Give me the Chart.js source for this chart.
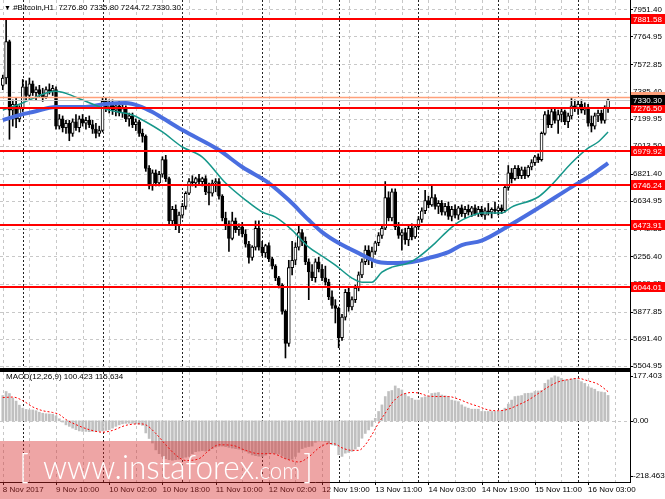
<!DOCTYPE html>
<html>
<head>
<meta charset="utf-8">
<script src="https://cdn.jsdelivr.net/npm/chart.js@4.4.1/dist/chart.umd.min.js"></script>
<style>
  html, body { margin: 0; padding: 0; background: #fff; }
  #wrap { position: relative; width: 665px; height: 499px; overflow: hidden; font-family: 'Liberation Sans', Arial, sans-serif; }
  #c1 { position: absolute; left: 0; top: 0; }
  #c2 { position: absolute; left: 0; top: 370px; }
  .lbl { position: absolute; font-size: 8px; line-height: 10px; color: #000; white-space: pre; }
  #pink { position: absolute; left: 0; top: 441px; width: 330px; height: 58px; background: rgba(215, 40, 40, 0.42); }
  .wm { position: absolute; color: #fff; white-space: pre; font-family: Lato, 'Open Sans', sans-serif; font-weight: 300; }
</style>
</head>
<body>
<div id="wrap">
  <canvas id="c1" width="665" height="370"></canvas>
  <canvas id="c2" width="665" height="129"></canvas>
  <div class="lbl" style="left:4px;top:3px;"><span style="font-size:7px">▼</span> #Bitcoin,H1  7276.80 7335.80 7244.72 7330.30</div>
  <div class="lbl" style="left:6px;top:372px;">MACD(12,26,9) 100.423 115.634</div>
  <div id="pink"></div>
  <div class="wm" id="bl" style="left:19px;top:449px;font-size:34px;line-height:34px;">[</div>
  <div class="wm" id="wmt" style="left:43px;top:449px;font-size:34px;line-height:34px;">www.instaforex<span style="font-size:24px">.com</span></div>
  <div class="wm" id="br" style="left:303px;top:449px;font-size:34px;line-height:34px;">]</div>
</div>
<script>
// hourly candles, 8 Nov 18:00 -> 16 Nov
const opens = [7430,7480,7730,7260,7300,7200,7270,7420,7360,7440,7380,7400,7370,7350,7400,7390,7400,7150,7200,7140,
  7170,7100,7180,7140,7200,7170,7190,7160,7130,7100,7120,7320,7280,7300,7260,7290,7240,7270,7200,7220,
  7160,7180,7100,7080,6860,6740,6830,6760,6820,6920,6790,6500,6580,6470,6540,6600,6690,6770,6760,6790,
  6770,6790,6700,6690,6760,6770,6670,6520,6480,6380,6500,6440,6460,6410,6340,6250,6320,6450,6320,6280,
  6330,6240,6190,6110,6060,5880,5660,6180,6230,6320,6420,6360,6220,6150,6110,6220,6170,6110,6080,5980,
  5920,5900,5700,5840,6010,5910,5960,6040,6130,6220,6300,6230,6290,6350,6400,6450,6660,6520,6700,6460,
  6400,6420,6370,6450,6390,6460,6510,6570,6640,6610,6660,6600,6620,6560,6600,6530,6580,6540,6590,6550,
  6580,6560,6590,6550,6580,6540,6570,6560,6580,6570,6590,6570,6730,6830,6790,6860,6810,6850,6810,6870,
  6900,6940,6920,7100,7230,7160,7250,7190,7230,7250,7180,7220,7290,7270,7300,7260,7280,7170,7150,7220,
  7240,7190,7276.80];
const highs = [7500,7880,7740,7330,7340,7290,7470,7460,7480,7460,7420,7430,7410,7420,7440,7430,7420,7230,7220,7190,
  7190,7200,7230,7220,7230,7210,7220,7190,7170,7150,7345,7340,7330,7330,7310,7320,7300,7290,7240,7240,
  7200,7190,7130,7090,6880,6850,6850,6840,6940,6950,6800,6600,6610,6560,6620,6700,6790,6810,6800,6820,
  6800,6810,6760,6780,6790,6790,6680,6560,6500,6560,6520,6480,6490,6440,6360,6330,6500,6500,6360,6340,
  6350,6250,6200,6120,6070,5890,6230,6360,6350,6470,6440,6390,6240,6200,6240,6250,6200,6190,6100,6020,
  5960,5910,5860,6030,6040,5980,6060,6150,6240,6330,6330,6320,6360,6420,6470,6770,6700,6720,6720,6490,
  6440,6450,6470,6480,6470,6530,6590,6710,6670,6750,6680,6640,6640,6620,6630,6600,6610,6600,6610,6600,
  6610,6600,6610,6600,6600,6590,6620,6590,6630,6600,6610,6740,6880,6860,6880,6880,6870,6870,6880,6920,
  6950,6960,7110,7250,7260,7270,7270,7260,7270,7260,7240,7340,7330,7320,7330,7310,7300,7220,7240,7260,
  7260,7290,7335.80];
const lows = [7400,7440,7060,7150,7140,7180,7250,7330,7340,7360,7330,7350,7320,7340,7370,7360,7130,7130,7110,7100,
  7050,7080,7120,7110,7150,7130,7140,7100,7070,7080,7110,7250,7240,7230,7220,7220,7210,7180,7150,7140,
  7120,7080,7040,6840,6720,6710,6740,6740,6800,6770,6480,6480,6440,6420,6520,6580,6680,6740,6730,6750,
  6740,6680,6610,6670,6700,6650,6500,6440,6290,6370,6420,6400,6390,6320,6210,6230,6300,6300,6260,6250,
  6220,6170,6090,6040,5860,5560,5640,6130,6200,6300,6330,6200,5960,6090,6080,6150,6090,6060,5960,5900,
  5800,5630,5680,5820,5880,5890,5940,6020,6110,6200,6200,6180,6270,6330,6380,6440,6500,6500,6440,6380,
  6300,6340,6330,6370,6380,6440,6490,6550,6590,6600,6580,6550,6540,6540,6510,6500,6520,6510,6530,6520,
  6540,6530,6540,6530,6530,6510,6540,6520,6550,6540,6550,6560,6710,6760,6780,6790,6790,6790,6800,6850,
  6880,6900,6910,7090,7140,7140,7170,7100,7180,7160,7140,7200,7250,7230,7240,7230,7150,7110,7130,7180,
  7170,7170,7244.72];
const closes = [7480,7730,7260,7300,7200,7270,7420,7360,7440,7380,7400,7370,7350,7400,7390,7410,7150,7200,7140,7170,
  7100,7180,7140,7200,7170,7190,7160,7130,7100,7120,7320,7280,7300,7260,7290,7240,7270,7200,7220,7160,
  7180,7100,7080,6860,6740,6830,6760,6820,6920,6790,6500,6580,6470,6540,6600,6690,6770,6760,6790,6770,
  6790,6700,6690,6760,6770,6670,6520,6480,6380,6500,6440,6460,6410,6340,6250,6320,6450,6320,6280,6330,
  6240,6190,6110,6060,5880,5660,6180,6230,6320,6420,6360,6220,6150,6110,6220,6170,6110,6080,5980,5920,
  5900,5700,5840,6010,5910,5960,6040,6130,6220,6300,6230,6290,6350,6400,6450,6660,6520,6700,6460,6400,
  6420,6370,6450,6390,6460,6510,6570,6640,6610,6660,6600,6620,6560,6600,6530,6580,6540,6590,6550,6580,
  6560,6590,6550,6580,6540,6570,6560,6580,6570,6590,6570,6730,6830,6790,6860,6810,6850,6810,6870,6900,
  6940,6920,7100,7230,7160,7250,7190,7230,7250,7180,7220,7290,7270,7300,7260,7280,7170,7150,7220,7240,
  7190,7277,7330.30];

// moving averages, read at sample bars
const tealIdx = [0,5,9,14,16,19,24,32,39,42,48,54,60,67,73,78,82,87,92,96,100,105,108,111,114,117,122,125,130,134,137,140,144,150,153,161,165,171,176,179,182];
const tealVal = [7260,7300,7340,7384,7390,7375,7329,7260,7226,7192,7110,7007,6938,6760,6643,6561,6526,6437,6320,6259,6197,6108,6080,6080,6149,6183,6211,6252,6348,6437,6492,6526,6554,6554,6595,6664,6746,6897,6999,7041,7110];
const blueIdx = [0,5,9,16,24,31,37,41,45,48,54,65,72,80,86,92,96,101,107,113,117,123,128,134,138,144,151,161,171,177,182];
const blueVal = [7192,7226,7247,7281,7281,7302,7308,7288,7247,7206,7123,6986,6870,6760,6643,6506,6423,6348,6279,6218,6211,6218,6245,6286,6334,6365,6451,6588,6732,6815,6897];

// horizontal levels
const levels = [7881.58, 7276.50, 6979.92, 6746.24, 6473.91, 6044.01];
const askPrice = 7350.30;
const bidPrice = 7330.30;
const priceTicks = [7951.40,7764.95,7572.85,7385.40,7199.95,7013.50,6821.40,6634.95,6442.85,6256.40,6069.95,5877.85,5691.40,5504.95];

// MACD
const macdHist = [100,116,108,90,78,62,50,45,43,43,40,34,30,28,27,26,20,8,-5,-16,
  -22,-29,-35,-40,-42,-42,-43,-42,-42,-41,-40,-38,-35,-29,-22,-16,-12,-10,-10,-10,
  -12,-14,-18,-48,-70,-88,-115,-130,-141,-150,-154,-156,-154,-152,-148,-144,-141,-130,-122,-120,
  -118,-120,-118,-110,-104,-101,-100,-102,-105,-108,-110,-112,-115,-120,-128,-135,-138,-140,-141,-136,
  -130,-128,-130,-132,-140,-150,-154,-152,-141,-125,-110,-105,-102,-100,-85,-80,-80,-82,-90,-95,
  -98,-134,-141,-128,-125,-121,-112,-102,-69,-50,-36,-22,10,37,63,96,116,120,138,128,
  122,108,96,89,82,82,92,95,98,108,110,112,102,99,96,82,79,76,63,55,
  50,46,46,46,37,37,37,37,37,37,40,50,66,82,96,98,100,108,109,110,
  116,118,120,148,162,170,178,174,168,162,162,165,168,162,155,148,135,130,125,116,
  114,112,100.4];
const sigIdx = [0,3,6,9,12,15,17,19,22,26,30,33,37,41,43,46,49,52,55,59,62,65,69,73,77,81,85,89,92,95,98,100,102,105,107,109,111,113,115,117,119,121,123,125,128,131,134,137,140,143,146,149,152,155,158,161,164,167,170,173,176,179,182];
const sigVal = [92,94,80,55,40,33,25,5,-15,-35,-45,-38,-18,-12,-16,-50,-95,-135,-157,-150,-117,-95,-97,-117,-130,-130,-150,-163,-143,-108,-90,-92,-107,-117,-117,-95,-55,-9,30,70,96,108,112,110,98,96,96,86,70,57,43,40,46,63,82,108,134,154,163,168,158,145,115.6];
const macdTicks = [177.403, 0, -218.463];

// time axis
const gridIdx = [0,8,16,24,32,40,48,56,64,72,80,88,96,104,112,120,128,136,144,152,160,168,176,184];
const sepIdx = [6,30,54,78,101,125,149,173];
const labelIdx = [0,16,32,48,64,80,96,112,128,144,160,176];
const labelText = ['8 Nov 2017','9 Nov 10:00','10 Nov 02:00','10 Nov 18:00','11 Nov 10:00','12 Nov 02:00','12 Nov 19:00','13 Nov 11:00','14 Nov 03:00','14 Nov 19:00','15 Nov 11:00','16 Nov 03:00'];

const xMin = -0.84, xMax = 188.6;
const FONT = { family: 'Liberation Sans', size: 8 };

// squeeze the watermark line to the width it has in the picture
(function fitMark() {
  const el = document.getElementById('wmt');
  const w = el.getBoundingClientRect().width;
  el.style.transformOrigin = '0 0';
  el.style.transform = 'scaleX(' + (257 / w).toFixed(3) + ')';
})();

function line(ctx, x1, y1, x2, y2, color, dash, width) {
  ctx.save();
  ctx.strokeStyle = color;
  ctx.lineWidth = width || 1;
  ctx.setLineDash(dash || []);
  ctx.beginPath();
  ctx.moveTo(x1, y1);
  ctx.lineTo(x2, y2);
  ctx.stroke();
  ctx.restore();
}

function tag(ctx, py, text, bg, fg) {
  ctx.save();
  ctx.fillStyle = bg;
  ctx.fillRect(631, Math.round(py) - 5, 34, 10);
  ctx.fillStyle = fg;
  ctx.font = '8px "Liberation Sans"';
  ctx.textBaseline = 'middle';
  ctx.fillText(text, 633, Math.round(py) + 0.5);
  ctx.restore();
}

function drawTimeGrid(chart) {
  const { ctx, chartArea: a, scales: { x } } = chart;
  gridIdx.forEach(i => {
    const px = Math.round(x.getPixelForValue(i)) + 0.5;
    if (px < a.right) line(ctx, px, a.top, px, a.bottom, '#c8c8c8', [3, 3]);
  });
  sepIdx.forEach(i => {
    const px = Math.round(x.getPixelForValue(i)) + 0.5;
    line(ctx, px, a.top, px, a.bottom, '#222', [2, 2]);
  });
}

const mainDecor = {
  id: 'mainDecor',
  beforeDatasetsDraw(chart) {
    const { ctx, chartArea: a, scales: { y } } = chart;
    priceTicks.forEach(v => {
      const py = Math.round(y.getPixelForValue(v)) + 0.5;
      line(ctx, a.left, py, a.right, py, '#c8c8c8', [3, 3]);
    });
    drawTimeGrid(chart);
  },
  afterDatasetsDraw(chart) {
    const { ctx, chartArea: a, scales: { y } } = chart;
    const ay = Math.round(y.getPixelForValue(askPrice)) + 0.5;
    const by = Math.round(y.getPixelForValue(bidPrice)) + 0.5;
    line(ctx, a.left, ay, a.right, ay, '#ffa07a', [], 1.5);
    line(ctx, a.left, by, a.right, by, '#c8c8c8', [], 1);
    levels.forEach(v => {
      const py = Math.round(y.getPixelForValue(v));
      line(ctx, a.left, py, a.right, py, '#ff0000', [], 2);
    });
  },
  afterDraw(chart) {
    const { ctx, chartArea: a, scales: { y } } = chart;
    line(ctx, a.right + 0.5, 0, a.right + 0.5, a.bottom, '#000');
    line(ctx, 0, a.bottom - 1, a.right + 1, a.bottom - 1, '#000', [], 2);
    priceTicks.forEach(v => {
      const py = Math.round(y.getPixelForValue(v)) + 0.5;
      line(ctx, a.right, py, a.right + 3, py, '#000');
    });
    levels.forEach(v => tag(ctx, y.getPixelForValue(v), v.toFixed(2), '#ff0000', '#fff'));
    tag(ctx, y.getPixelForValue(askPrice), askPrice.toFixed(2), '#ffa07a', '#fff');
    tag(ctx, y.getPixelForValue(bidPrice), bidPrice.toFixed(2), '#000', '#fff');
  }
};

new Chart(document.getElementById('c1'), {
  type: 'bar',
  data: {
    datasets: [
      { type: 'line', data: tealIdx.map((x, k) => ({ x, y: tealVal[k] })), borderColor: '#16978a', borderWidth: 1.5,
        pointRadius: 0, cubicInterpolationMode: 'monotone', order: 0 },
      { type: 'line', data: blueIdx.map((x, k) => ({ x, y: blueVal[k] })), borderColor: '#4a6ee0', borderWidth: 4,
        pointRadius: 0, cubicInterpolationMode: 'monotone', order: 1 },
      { type: 'bar', data: opens.map((o, i) => ({ x: i, y: [o, closes[i]] })),
        backgroundColor: c => closes[c.dataIndex] >= opens[c.dataIndex] ? '#ffffff' : '#000000',
        borderColor: '#000', borderWidth: 1, borderSkipped: false, barThickness: 3, minBarLength: 1, grouped: false, order: 2 },
      { type: 'bar', data: lows.map((l, i) => ({ x: i, y: [l, highs[i]] })),
        backgroundColor: '#000', barThickness: 1, grouped: false, order: 3 }
    ]
  },
  options: {
    responsive: false, animation: false, events: [],
    layout: { padding: 0 },
    plugins: { legend: { display: false }, tooltip: { enabled: false } },
    scales: {
      x: { type: 'linear', min: xMin, max: xMax, offset: false, display: false },
      y: {
        position: 'right', min: 5477.5, max: 8015.2,
        grid: { display: false, drawTicks: false }, border: { display: false },
        afterBuildTicks: s => { s.ticks = priceTicks.map(v => ({ value: v })); },
        afterFit: s => { s.width = 35; s.paddingTop = 0; s.paddingBottom = 0; },
        ticks: { autoSkip: false, padding: 3, color: '#000', font: FONT, callback: v => Number(v).toFixed(2) }
      }
    }
  },
  plugins: [mainDecor]
});

const macdDecor = {
  id: 'macdDecor',
  beforeDatasetsDraw(chart) {
    const { ctx, chartArea: a, scales: { y } } = chart;
    const py = Math.round(y.getPixelForValue(0)) + 0.5;
    line(ctx, a.left, py, a.right, py, '#c8c8c8', [3, 3]);
    drawTimeGrid(chart);
  },
  afterDraw(chart) {
    const { ctx, chartArea: a, scales: { x, y } } = chart;
    line(ctx, 0, 1, a.right + 1, 1, '#000', [], 2);
    line(ctx, a.right + 0.5, 0, a.right + 0.5, a.bottom, '#000');
    line(ctx, 0, a.bottom + 0.5, a.right + 1, a.bottom + 0.5, '#000');
    macdTicks.forEach(v => {
      const py = Math.round(y.getPixelForValue(v)) + 0.5;
      line(ctx, a.right, py, a.right + 3, py, '#000');
    });
    labelIdx.forEach(i => {
      const px = Math.round(x.getPixelForValue(i)) + 0.5;
      line(ctx, px, a.bottom, px, a.bottom + 3, '#000');
    });
  }
};

new Chart(document.getElementById('c2'), {
  type: 'bar',
  data: {
    datasets: [
      { type: 'line', data: sigIdx.map((x, k) => ({ x, y: sigVal[k] })), borderColor: '#ff0000', borderWidth: 1,
        borderDash: [2, 2], pointRadius: 0, cubicInterpolationMode: 'monotone', order: 0 },
      { type: 'bar', data: macdHist.map((v, i) => ({ x: i, y: v })), backgroundColor: '#c0c0c0',
        barThickness: 2, grouped: false, order: 1 }
    ]
  },
  options: {
    responsive: false, animation: false, events: [],
    layout: { padding: { top: 2 } },
    plugins: { legend: { display: false }, tooltip: { enabled: false } },
    scales: {
      x: {
        type: 'linear', min: xMin, max: xMax, offset: false,
        grid: { display: false, drawTicks: false }, border: { display: false },
        afterBuildTicks: s => { s.ticks = gridIdx.map(v => ({ value: v })); },
        afterFit: s => { s.height = 17; s.paddingLeft = 0; s.paddingRight = 0; },
        ticks: {
          autoSkip: false, maxRotation: 0, minRotation: 0, align: 'start', padding: 3, color: '#000', font: FONT,
          callback: v => { const k = labelIdx.indexOf(v); return k >= 0 ? labelText[k] : ''; }
        }
      },
      y: {
        position: 'right', min: -242.2, max: 193.2,
        grid: { display: false, drawTicks: false }, border: { display: false },
        afterBuildTicks: s => { s.ticks = macdTicks.map(v => ({ value: v })); },
        afterFit: s => { s.width = 35; s.paddingTop = 0; s.paddingBottom = 0; },
        ticks: { autoSkip: false, padding: 3, color: '#000', font: FONT,
          callback: v => v === 0 ? '0.00' : Number(v).toFixed(3) }
      }
    }
  },
  plugins: [macdDecor]
});
</script>
</body>
</html>
